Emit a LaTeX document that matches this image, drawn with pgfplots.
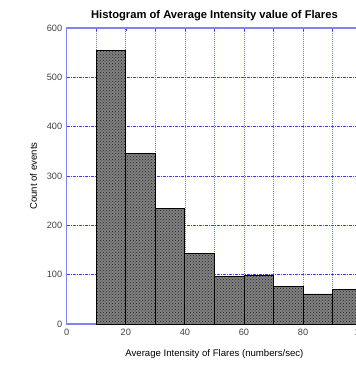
\documentclass[border=0pt]{standalone}
\usepackage{pgfplots}
\pgfplotsset{compat=1.18}
\usepackage{fontspec}
\setmainfont{Liberation Sans}
\usetikzlibrary{patterns}
\definecolor{gridblue}{RGB}{60,60,245}
\definecolor{vgridblue}{RGB}{110,110,250}
\definecolor{axblue}{RGB}{130,130,245}
\begin{document}
\begin{tikzpicture}
\begin{axis}[
  at={(0pt,0pt)}, anchor=south west,
  scale only axis,
  width=295.5pt, height=296pt,
  xmin=0, xmax=100, ymin=0, ymax=600,
  xtick={0,20,...,100}, minor xtick={10,30,...,90},
  ytick={0,100,...,600},
  ymajorgrids, xmajorgrids, xminorgrids,
  y grid style={gridblue, dash pattern=on 3pt off 1pt on 1pt off 1pt, line width=0.5pt},
  x grid style={vgridblue, dash pattern=on 1pt off 1pt, line width=0.7pt},
  x axis line style={gridblue, line width=0.9pt},
  y axis line style={axblue, line width=1.4pt},
  tick style={gridblue, line width=0.5pt},
  major tick length=3pt, minor tick length=3pt,
  tick align=inside,
  /pgf/number format/assume math mode=true,
  tick label style={font=\fontsize{9.2}{10}\selectfont, text=black!75},
  xticklabel style={yshift=-2pt},
  yticklabel style={xshift=-1pt},
  title={\fontsize{11.2}{12}\selectfont\bfseries Histogram of Average Intensity value of Flares},
  title style={yshift=-2pt},
  xlabel={\fontsize{9.6}{11}\selectfont Average Intensity of Flares (numbers/sec)},
  ylabel={\fontsize{9.6}{11}\selectfont Count of events},
  xlabel style={yshift=-7pt},
  ylabel style={yshift=3pt},
]
\addplot[ybar interval, draw=black, line width=0.8pt, fill=black!50,
  postaction={pattern=crosshatch dots, pattern color=black!85}]
  coordinates {(10,555) (20,345) (30,235) (40,143) (50,96) (60,99) (70,77) (80,61) (90,70) (100,70)};
\end{axis}
\pgfresetboundingbox
\path[use as bounding box] (-66.7pt,-41pt) rectangle (289.3pt,324pt);
\end{tikzpicture}
\end{document}
